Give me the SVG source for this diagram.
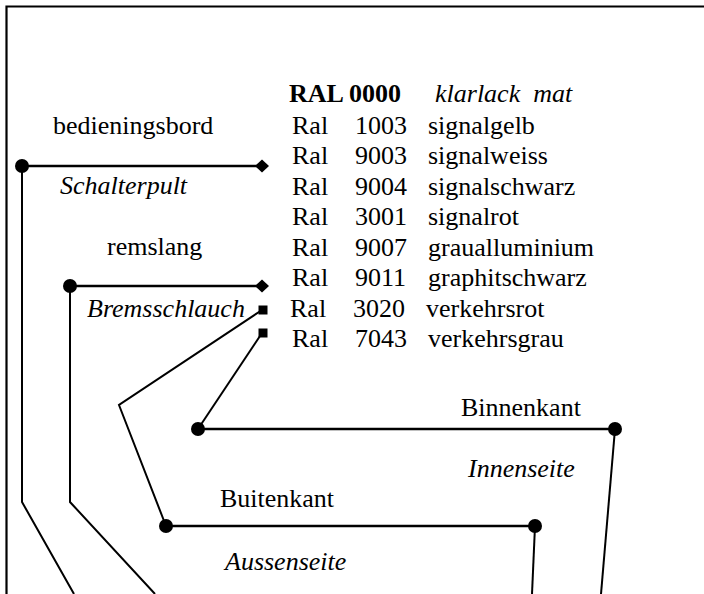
<svg xmlns="http://www.w3.org/2000/svg" width="704" height="594" viewBox="0 0 704 594">
<style>
text{font-family:"Liberation Serif","Times New Roman",serif;font-size:26px;fill:#000}
.i{font-style:italic}
.b{font-weight:bold}
.thick{stroke:#000;stroke-width:2.6;fill:none}
.thin{stroke:#000;stroke-width:2;fill:none}
.dot{fill:#000}
</style>
<defs>
<circle id="dot" r="7" class="dot"/>
<path id="dia" d="M0,-6.5 L7,0 L0,6.5 L-7,0 Z" fill="#000"/>
<rect id="sq" x="-4.5" y="-4.5" width="9" height="9" fill="#000"/>
</defs>
<rect width="704" height="594" fill="#fff"/>
<path d="M6.5,594 V6.5 H704" stroke="#000" stroke-width="2.2" fill="none"/>

<g id="connectors">
<path class="thick" d="M22,166 H262"/>
<path class="thin" d="M22,166 V502 L74,594"/>
<path class="thick" d="M70,286 H262"/>
<path class="thin" d="M70,286 V502 L155,594"/>
<path class="thin" d="M262,310 L119,405 L166,526"/>
<path class="thick" d="M166,526 H535"/>
<path class="thin" d="M535,526 L532,594"/>
<path class="thin" d="M262,333 L198,429"/>
<path class="thick" d="M198,429 H615"/>
<path class="thin" d="M615,429 L601,594"/>
<use href="#dot" x="22" y="166"/>
<use href="#dia" x="262" y="166"/>
<use href="#dot" x="70" y="286"/>
<use href="#dia" x="262" y="286"/>
<use href="#sq" x="263" y="310"/>
<use href="#sq" x="263" y="333"/>
<use href="#dot" x="166" y="526"/>
<use href="#dot" x="535" y="526"/>
<use href="#dot" x="198" y="429"/>
<use href="#dot" x="615" y="429"/>
</g>

<g id="node-bedieningsbord"><text x="53" y="134">bedieningsbord</text></g>
<g id="node-schalterpult"><text class="i" x="60" y="194">Schalterpult</text></g>
<g id="node-remslang"><text x="107" y="255">remslang</text></g>
<g id="node-bremsschlauch"><text class="i" x="87" y="317">Bremsschlauch</text></g>
<g id="node-binnenkant"><text x="461" y="416">Binnenkant</text></g>
<g id="node-innenseite"><text class="i" x="468" y="477">Innenseite</text></g>
<g id="node-buitenkant"><text x="220" y="507">Buitenkant</text></g>
<g id="node-aussenseite"><text class="i" x="225" y="570">Aussenseite</text></g>

<g id="node-ral-table">
<text class="b" x="289" y="102">RAL 0000</text>
<text class="i" x="435" y="102" xml:space="preserve">klarlack  mat</text>
<text x="292" y="134">Ral</text><text x="355" y="134">1003</text><text x="428" y="134">signalgelb</text>
<text x="292" y="164">Ral</text><text x="355" y="164">9003</text><text x="428" y="164">signalweiss</text>
<text x="292" y="194.5">Ral</text><text x="355" y="194.5">9004</text><text x="428" y="194.5">signalschwarz</text>
<text x="292" y="225">Ral</text><text x="355" y="225">3001</text><text x="428" y="225">signalrot</text>
<text x="292" y="255.5">Ral</text><text x="355" y="255.5">9007</text><text x="428" y="255.5">graualluminium</text>
<text x="292" y="286">Ral</text><text x="355" y="286">9011</text><text x="428" y="286">graphitschwarz</text>
<text x="290" y="316.5">Ral</text><text x="353" y="316.5">3020</text><text x="426" y="316.5">verkehrsrot</text>
<text x="292" y="347">Ral</text><text x="355" y="347">7043</text><text x="428" y="347">verkehrsgrau</text>
</g>
</svg>
